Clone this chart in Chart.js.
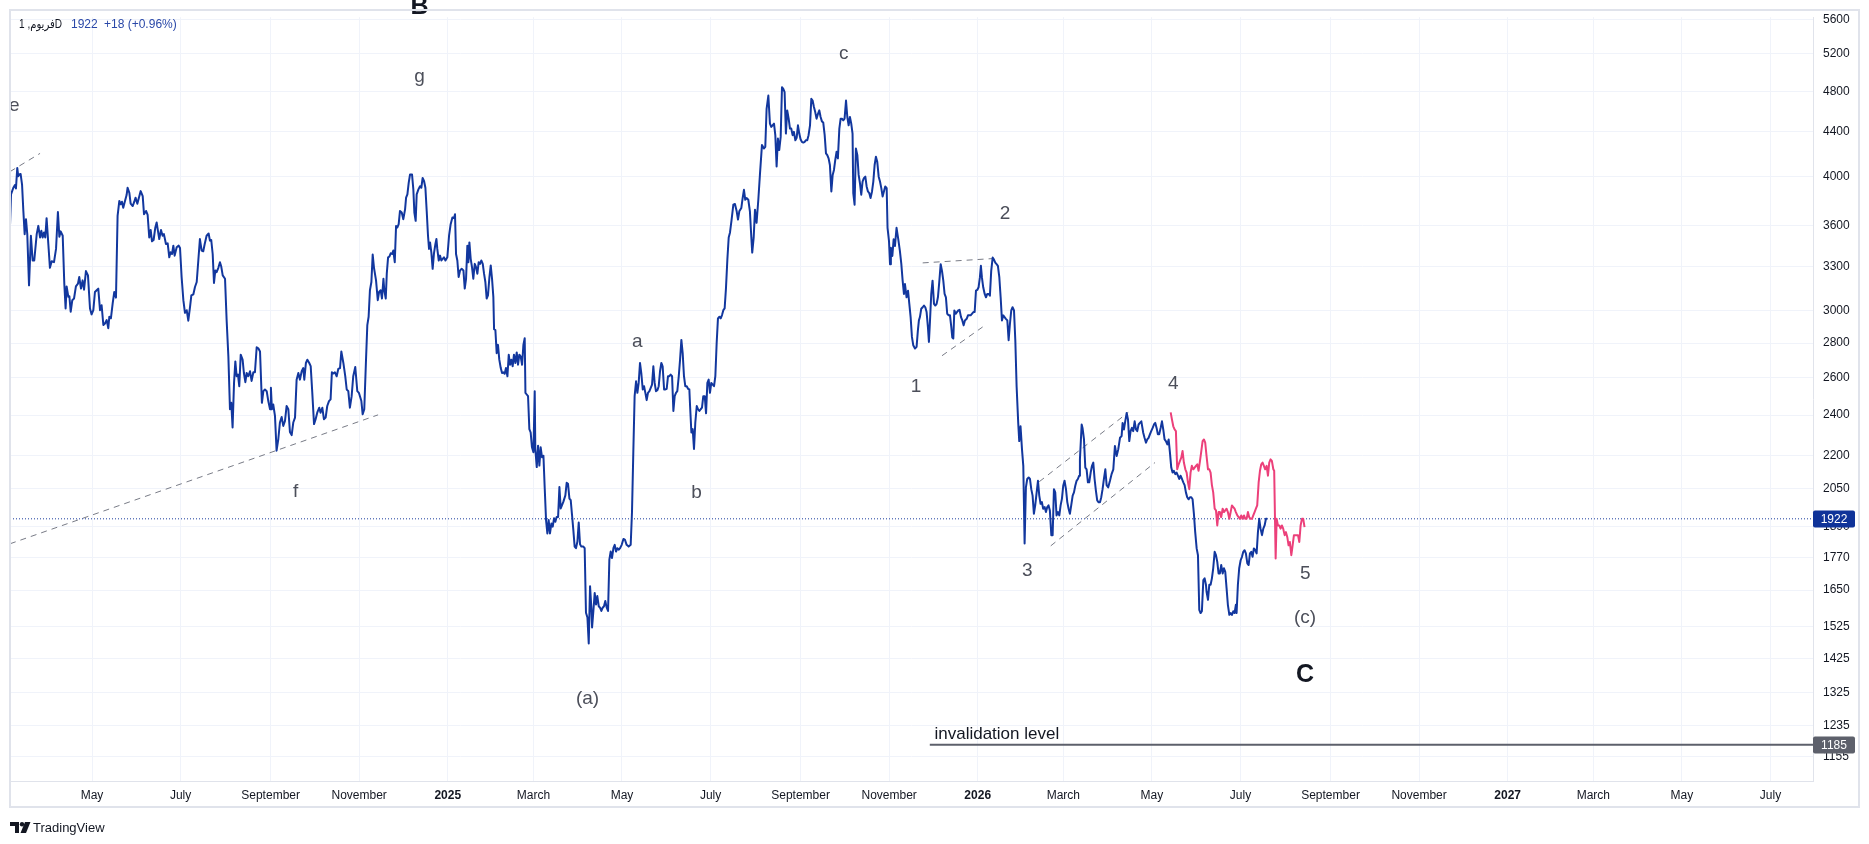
<!DOCTYPE html>
<html>
<head>
<meta charset="utf-8">
<script src="https://cdn.jsdelivr.net/npm/chart.js@4.4.1/dist/chart.umd.min.js"></script>
<style>
html,body{margin:0;padding:0;background:#ffffff;overflow:hidden;}
canvas{display:block;}
</style>
</head>
<body>
<canvas id="chart" width="1869" height="844"></canvas>
<script>
const FONT = '"Liberation Sans", Arial, "DejaVu Sans", sans-serif';
const BASE_DATE = '2024-01-01';
const dayOf = s => (Date.parse(s + 'T00:00:00Z') - Date.parse(BASE_DATE + 'T00:00:00Z')) / 864e5;

// ---------- axes ----------
const monthTickDates = ['2024-05-01','2024-07-01','2024-09-01','2024-11-01','2025-01-01','2025-03-01','2025-05-01','2025-07-01','2025-09-01','2025-11-01','2026-01-01','2026-03-01','2026-05-01','2026-07-01','2026-09-01','2026-11-01','2027-01-01','2027-03-01','2027-05-01','2027-07-01'];
const monthTickLabels = ['May','July','September','November','2025','March','May','July','September','November','2026','March','May','July','September','November','2027','March','May','July'];
const priceTicks = [1155,1235,1325,1425,1525,1650,1770,1890,2050,2200,2400,2600,2800,3000,3300,3600,4000,4400,4800,5200,5600];
const xRange = [64.5, 1306.3];      // days since 2024-01-01 visible
const yRange = [1096.6, 5624];      // visible price range (log)

// ---------- series: [days since 2024-01-01, price] ----------
const blueSeries = [
[64.5,3598],[65.2,3849],[66.8,3904],[67.9,3926],[68.6,3898],[69.5,4073],[70.2,4001],[70.9,4016],[71.8,4021],[72.8,3931],[73.7,3715],[74.6,3535],[75.5,3650],[76.4,3535],[77.6,3168],[78.9,3523],[80.1,3341],[81.2,3341],[82.9,3535],[84.0,3598],[85.2,3510],[86.1,3560],[87.0,3510],[87.9,3548],[88.8,3510],[89.7,3658],[90.9,3461],[92.0,3289],[93.2,3336],[94.8,3329],[96.2,3425],[97.5,3707],[98.5,3515],[99.4,3556],[100.8,3523],[101.9,3179],[102.8,3015],[103.5,3161],[104.7,3091],[105.4,3095],[106.3,2994],[107.4,3069],[108.6,3080],[109.9,3161],[111.3,3179],[112.2,3225],[113.4,3146],[114.5,3202],[115.5,3139],[116.8,3266],[118.2,3236],[119.6,3015],[120.7,2977],[121.9,3004],[123.0,3123],[124.2,3135],[125.3,3146],[126.5,3004],[127.6,3036],[128.8,2910],[129.9,2920],[131.1,2941],[132.2,2890],[132.9,2962],[134.0,2952],[135.2,3047],[136.3,3123],[137.5,3086],[138.6,3676],[139.8,3795],[140.7,3768],[141.6,3789],[142.5,3741],[143.7,3795],[144.8,3843],[145.5,3904],[146.7,3862],[147.6,3773],[149.0,3754],[150.1,3789],[151.0,3822],[152.2,3773],[153.1,3813],[154.5,3876],[155.9,3835],[156.8,3689],[158.2,3715],[159.3,3683],[160.4,3510],[161.4,3566],[162.3,3481],[163.4,3491],[164.6,3586],[165.5,3624],[166.4,3560],[167.3,3498],[168.5,3566],[169.6,3523],[170.5,3535],[171.9,3461],[173.1,3466],[174.2,3364],[175.1,3400],[176.1,3388],[177.0,3449],[177.9,3376],[179.3,3437],[180.7,3449],[181.6,3432],[182.7,3225],[183.9,3069],[185.0,2987],[186.2,3004],[187.3,2937],[188.5,3026],[189.4,3101],[190.8,3108],[191.9,3157],[193.1,3191],[194.2,3341],[195.3,3498],[196.5,3413],[197.6,3408],[198.6,3461],[199.9,3523],[201.3,3540],[202.2,3486],[203.1,3491],[204.1,3388],[205.0,3184],[205.9,3271],[206.8,3259],[208.0,3289],[209.1,3329],[210.0,3298],[211.0,3236],[212.6,3213],[213.7,2941],[214.9,2721],[216.0,2430],[216.9,2464],[217.8,2337],[218.8,2571],[219.7,2692],[220.6,2608],[221.5,2617],[222.4,2553],[223.4,2731],[224.7,2702],[225.6,2626],[226.6,2575],[227.5,2626],[228.6,2608],[229.8,2636],[230.9,2582],[232.1,2630],[233.2,2630],[234.4,2775],[235.5,2769],[236.7,2750],[238.0,2464],[239.0,2526],[240.1,2535],[241.3,2526],[242.4,2473],[243.6,2430],[244.2,2544],[244.9,2430],[245.8,2455],[247.0,2396],[248.1,2224],[249.3,2280],[250.4,2362],[251.6,2390],[252.7,2345],[253.9,2370],[255.0,2447],[256.2,2430],[257.3,2315],[258.5,2299],[259.6,2362],[260.8,2387],[261.9,2589],[263.1,2626],[264.2,2589],[265.4,2636],[266.5,2654],[267.2,2589],[268.3,2683],[269.3,2702],[270.6,2683],[271.6,2665],[272.7,2517],[273.9,2354],[275.0,2379],[276.1,2412],[277.5,2438],[278.4,2412],[279.6,2438],[280.7,2379],[281.9,2387],[283.0,2447],[284.2,2473],[285.3,2482],[286.2,2630],[287.2,2623],[288.3,2630],[289.5,2608],[290.6,2649],[291.8,2654],[292.7,2750],[294.1,2683],[295.4,2608],[296.4,2535],[297.5,2526],[298.6,2438],[299.8,2499],[300.9,2608],[302.3,2660],[303.7,2526],[304.8,2517],[306.5,2473],[307.4,2404],[308.5,2430],[309.7,2702],[310.6,2910],[311.5,2962],[312.4,3135],[313.4,3191],[314.3,3384],[315.2,3289],
[316.6,3202],[317.8,3069],[318.7,3123],[319.8,3135],[320.7,3080],[321.7,3213],[322.3,3135],[323.3,3080],[324.0,3248],[324.9,3364],[325.8,3369],[326.7,3393],[327.6,3388],[328.5,3413],[329.5,3329],[330.4,3598],[331.3,3586],[332.2,3611],[333.1,3715],[334.3,3702],[335.4,3650],[336.6,3728],[337.3,3822],[338.2,3849],[339.1,3945],[340.0,4016],[341.4,4016],[342.3,3890],[343.0,3702],[343.9,3637],[344.6,3849],[345.8,3890],[346.9,3917],[347.8,3904],[348.7,3987],[349.7,3959],[350.6,3904],[351.5,3715],[352.4,3523],[353.1,3425],[353.8,3473],[354.7,3400],[355.6,3282],[356.5,3393],[357.5,3461],[358.2,3498],[358.8,3425],[359.8,3341],[360.7,3376],[361.6,3341],[362.5,3353],[363.4,3364],[364.4,3341],[365.7,3364],[366.9,3523],[368.0,3611],[369.2,3663],[370.3,3658],[371.0,3689],[371.7,3388],[372.6,3341],[373.5,3225],[374.5,3271],[375.6,3282],[376.8,3271],[377.7,3146],[378.6,3213],[379.5,3449],[380.2,3329],[380.9,3473],[381.8,3353],[382.7,3294],[383.6,3213],[384.6,3317],[385.5,3294],[386.4,3248],[387.3,3329],[388.2,3317],[389.1,3341],[390.1,3317],[391.0,3248],[391.9,3191],[392.8,3080],[393.7,3101],[394.7,3225],[395.6,3306],[396.5,3213],[397.4,3091],[397.9,2884],[398.8,2879],[399.7,2740],[400.6,2789],[401.5,2702],[402.5,2654],[403.4,2626],[404.3,2630],[405.2,2622],[406.1,2654],[407.1,2608],[408.0,2731],[408.9,2673],[409.8,2702],[410.7,2664],[411.6,2731],[412.6,2683],[413.5,2744],[414.4,2673],[415.3,2731],[416.2,2721],[417.2,2673],[418.1,2789],[419.0,2829],[419.5,2517],[420.4,2508],[421.3,2499],[422.2,2329],[423.1,2312],[424.0,2240],[425.0,2216],[425.9,2526],[426.3,2232],[427.3,2147],[428.2,2248],[429.1,2154],[430.0,2240],[430.9,2193],[431.9,2200],[432.8,2050],[433.7,1917],[434.6,1863],[435.5,1917],[436.4,1863],[437.4,1903],[438.3,1890],[439.2,1924],[440.1,1910],[441.0,1930],[442.0,1930],[442.9,2057],[443.8,1965],[444.7,1979],[445.6,1993],[447.0,2021],[447.9,2076],[448.8,2072],[449.8,2007],[450.7,2000],[451.6,1937],[452.5,1876],[453.4,1811],[454.3,1805],[455.3,1831],[456.2,1907],[457.1,1820],[458.0,1811],[459.4,1811],[460.3,1805],[461.2,1572],[462.2,1556],[463.1,1472],[464.0,1664],[464.9,1589],[465.4,1523],[466.3,1578],[467.2,1640],[468.1,1600],[469.0,1629],[470.0,1594],[470.9,1589],[471.8,1578],[472.7,1589],[473.6,1594],[474.5,1612],[475.5,1589],[476.4,1578],[477.3,1761],[478.2,1792],[479.1,1767],[480.1,1805],[481.0,1818],[481.9,1792],[482.8,1805],[483.7,1799],[484.7,1805],[485.8,1818],[487.0,1841],[488.1,1837],[489.2,1818],[490.6,1811],[492.0,1818],[492.9,1951],[493.8,2216],[494.7,2499],[495.7,2580],[496.6,2517],[497.5,2571],[498.4,2683],[499.3,2626],[500.3,2535],[501.2,2553],[502.1,2517],[503.0,2478],[503.9,2517],[504.9,2526],[505.8,2544],[506.7,2562],[507.6,2664],[508.5,2571],[509.4,2526],[510.4,2531],[511.3,2553],[512.2,2636],[513.1,2683],[514.0,2664],[515.0,2535],[515.9,2535],[516.8,2539],[517.7,2608],[518.6,2608],[519.5,2617],[520.5,2608],[521.4,2421],[522.3,2499],[523.2,2517],[524.1,2526],[525.1,2608],[526.0,2702],[526.9,2819],[527.8,2740],[528.7,2608],[529.6,2553],[530.6,2553],[531.5,2539],[532.4,2535],[532.9,2447],[533.8,2312],[534.7,2329],[535.6,2232],[536.5,2362],[537.5,2447],[538.4,2430],[539.3,2421],[540.2,2430],[541.1,2438],[542.0,2499],[543.0,2499],[543.9,2409],[544.8,2571],[545.7,2589],[546.6,2517],[547.5,2571],[548.5,2562],[549.4,2553],[550.3,2608],[551.2,2799],[552.1,2952],[553.1,2962],[554.0,2952],[554.9,2973],[555.8,3004],[556.7,3015],[557.6,3146],[558.6,3353],[559.5,3510],[560.4,3548],
[561.5,3647],[562.7,3765],[563.8,3771],[565.0,3712],[565.9,3647],[566.8,3712],[568.2,3739],[569.1,3819],[570.0,3887],[570.9,3805],[571.8,3819],[573.0,3805],[574.1,3712],[575.1,3508],[575.7,3398],[576.7,3508],[577.6,3725],[578.7,3622],[579.9,3805],[581.0,4013],[582.4,4277],[583.8,4247],[584.7,4262],[585.6,4623],[586.8,4756],[587.9,4478],[588.8,4447],[589.7,4462],[590.7,4478],[591.6,4369],[592.5,4085],[593.4,4338],[594.3,4232],[595.3,4353],[596.2,4841],[597.1,4824],[598.0,4790],[598.9,4384],[599.8,4607],[600.8,4526],[601.7,4431],[602.6,4431],[603.5,4369],[604.4,4400],[605.4,4322],[606.3,4344],[607.2,4462],[608.1,4384],[609.0,4331],[609.9,4307],[610.9,4300],[611.8,4307],[612.7,4322],[613.6,4322],[614.5,4369],[615.5,4462],[616.4,4722],[617.3,4705],[618.2,4640],[619.1,4590],[620.0,4526],[621.0,4574],[621.9,4607],[622.8,4542],[623.7,4500],[624.6,4490],[625.6,4369],[626.5,4202],[627.4,4186],[628.3,4157],[629.2,4099],[630.2,3873],[631.1,4013],[632.0,4056],[632.9,4143],[633.8,4217],[634.7,4157],[635.7,4431],[636.6,4526],[637.5,4526],[638.4,4510],[639.3,4526],[640.3,4705],[641.2,4542],[642.1,4462],[643.0,4542],[643.9,4478],[644.8,4384],[645.3,3860],[646.2,3765],[647.1,4247],[648.1,4186],[649.0,4013],[649.9,3942],[650.8,3846],[651.7,3956],[652.6,3985],[653.6,3998],[654.5,3915],[655.4,3873],[656.3,3860],[657.2,3819],[658.2,3873],[659.1,3956],[660.0,4099],[660.9,4172],[661.8,4128],[662.8,3998],[663.7,3956],[664.6,3901],[665.5,3832],[666.4,3873],[667.3,3915],[668.3,3901],[668.9,3583],[669.9,3483],[670.6,3315],[671.2,3434],[672.2,3374],[673.1,3496],[674.0,3446],[675.1,3583],[676.3,3496],[677.4,3410],[678.4,3315],[679.3,3200],[680.2,3110],[680.9,3177],[682.0,3088],[683.0,3132],[683.9,3045],[684.8,2960],[685.7,2837],[686.6,2787],[687.8,2767],[688.9,2777],[689.8,2877],[690.5,2939],[691.2,2960],[692.1,3013],[693.1,3023],[694.0,3034],[694.9,3023],[695.8,2992],[696.7,2898],[697.4,2807],[698.1,2929],[699.0,3110],[699.9,3200],[700.9,3045],[701.8,3034],[702.7,3045],[703.6,3088],[704.5,3188],[705.5,3315],[706.4,3268],[707.3,3200],[708.2,3110],[709.1,3088],[710.0,2981],[711.0,2971],[711.9,2971],[712.8,2898],[713.5,2833],[714.2,2827],[714.9,3002],[715.8,2981],[716.7,2992],[717.6,3002],[718.5,3006],[719.5,2960],[720.4,2939],[721.3,2908],[722.2,2939],[723.4,2949],[724.3,2971],[725.2,2971],[726.1,2971],[727.0,2981],[728.0,2992],[728.9,2992],[729.8,3132],[730.7,3137],[731.6,3155],[732.5,3222],[733.2,3303],[733.9,3222],[734.8,3155],[735.8,3110],[736.7,3088],[737.6,3110],[738.5,3110],[739.4,3099],[740.3,3268],[741.3,3362],[742.2,3348],[743.1,3326],[744.0,3315],[744.9,3303],[745.9,3222],[746.8,3088],[747.7,2939],[748.6,2971],[749.5,2960],[750.4,2949],[751.4,2939],[752.3,2817],[753.2,2918],[754.1,3002],[755.0,3023],[756.0,3002],[756.9,2817],[757.8,2551],[758.9,2360],[759.6,2270],[760.5,2343],[761.5,2230],[762.4,2153],[763.3,1823],[764.2,2056],[765.1,2093],[766.1,2100],[767.0,2093],[767.9,2048],[768.8,2020],[769.7,1943],[770.6,1978],[771.6,2034],[772.5,2085],[773.4,2020],[774.3,1985],[775.2,1992],[776.1,1964],[777.1,1971],[778.0,1950],[778.9,1971],[779.8,1978],[780.7,1957],[781.7,1856],[782.6,1856],[783.5,2048],[784.4,2034],[785.3,1936],[786.3,1950],[787.2,1936],[788.1,1978],[789.0,2006],[789.9,2063],[790.8,2085],[791.8,2048],[792.7,1992],[793.6,1964],[794.5,1943],[795.4,1978],[796.4,2020],[797.3,2034],[798.2,2063],[799.1,2085],[800.0,2093],[800.9,2108],[801.4,2183],
[802.6,2352],[803.2,2335],[804.2,2278],[805.1,2145],[806.0,2137],[806.9,2078],[807.8,2078],[808.8,2122],[809.7,2153],[810.6,2168],[811.5,2093],[812.4,2042],[813.3,1999],[814.3,1991],[815.2,1991],[816.1,2013],[817.0,2048],[817.9,2093],[818.9,2137],[819.8,2066],[820.9,2056],[822.1,2085],[823.2,2115],[824.4,2137],[825.5,2246],[826.7,2199],[827.8,2230],[829.0,2286],[830.1,2294],[830.8,2360],[831.7,2327],[832.6,2368],[833.6,2411],[834.5,2377],[835.4,2270],[836.3,2319],[837.2,2335],[838.1,2319],[839.1,2368],[840.0,2327],[840.9,2319],[841.8,2352],[842.7,2360],[843.7,2368],[845.0,2311],[845.9,2286],[846.9,2262],[847.8,2278],[848.7,2286],[849.6,2303],[850.5,2319],[851.5,2335],[852.4,2352],[853.3,2360],[854.2,2335],[855.1,2303],[856.0,2303],[857.0,2335],[857.9,2368],[858.8,2327],[859.7,2278],[860.6,2270],[861.6,2254],[862.5,2278],[863.4,2215],[864.3,2145],[865.2,2122],[866.1,2130],[867.1,2115],[868.0,2122],[868.9,2108],[869.8,2093],[870.7,2108],[871.7,2093],[872.6,2078],[873.5,2066],[874.4,2034],[875.3,2013],[876.3,2004],[877.2,2013],[878.1,2013],[879.0,2004],[879.9,1943],[880.8,1868],[881.8,1804],[882.7,1778],[883.6,1582],[884.5,1571],[885.4,1577],[886.4,1686],[887.3,1692],[888.2,1669],[888.6,1645],[889.6,1616],[890.5,1669],[891.4,1669],[892.3,1692],[893.2,1729],[894.2,1791],[895.1,1778],[896.0,1753],[896.9,1710],[897.8,1710],[898.7,1741],[899.7,1710],[900.6,1729],[901.5,1716],[902.4,1657],[903.3,1599],[904.3,1565],[905.2,1571],[906.1,1565],[907.0,1577],[907.9,1571],[908.8,1599],[909.3,1571],[910.2,1669],[911.1,1729],[912.1,1759],[913.0,1772],[913.9,1791],[914.8,1797],[915.7,1785],[916.7,1747],[917.6,1741],[918.5,1785],[919.4,1791],[920.3,1772],[921.2,1804],[922.2,1797],[923.1,1785],[924.0,1868],[924.9,1922],[925.8,1882],[926.8,1856],[927.7,1882],[928.6,1895],[929.5,1922],[930.4,1922]
];

const pinkSeries = [
[863.9,2414],[864.8,2377],[865.7,2343],[866.6,2327],[867.5,2319],[868.4,2137],[869.4,2160],[870.3,2176],[871.2,2191],[872.1,2222],[873.0,2168],[874.0,2137],[874.9,2122],[875.8,2078],[876.7,2048],[877.6,2122],[878.5,2153],[879.5,2137],[880.4,2145],[881.3,2153],[882.2,2160],[883.1,2130],[884.1,2176],[885.0,2222],[885.9,2270],[886.8,2278],[887.7,2262],[888.6,2199],[889.6,2137],[890.5,2137],[891.4,2122],[892.3,2066],[893.2,2034],[894.2,1964],[895.1,1957],[896.0,1895],[896.9,1950],[897.8,1950],[898.7,1929],[899.7,1964],[900.6,1950],[901.5,1957],[902.4,1964],[903.3,1950],[904.3,1922],[905.2,1950],[906.1,1978],[907.0,1971],[907.9,1964],[908.8,1950],[909.8,1936],[910.7,1929],[911.6,1922],[912.5,1936],[913.4,1922],[914.4,1936],[915.3,1922],[916.2,1922],[917.1,1950],[918.0,1929],[918.9,1922],[919.9,1922],[920.8,1936],[921.7,1950],[922.6,1964],[923.5,1978],[924.5,2078],[925.4,2130],[926.3,2160],[927.2,2168],[928.1,2153],[929.0,2137],[930.0,2153],[930.9,2108],[931.8,2168],[932.7,2183],[933.6,2176],[934.6,2137],[935.2,2130],[936.2,1766],[936.9,1922],[937.8,1895],[938.7,1895],[939.6,1882],[940.5,1895],[941.4,1882],[942.4,1856],[943.3,1868],[944.2,1849],[945.1,1816],[946.0,1829],[947.0,1778],[947.9,1816],[948.8,1856],[949.7,1856],[950.6,1856],[951.6,1856],[952.5,1829],[953.4,1895],[954.3,1922],[955.2,1922],[956.1,1888]
];

const lastPrice = 1922;
const lastChange = '+18 (+0.96%)';
const symbolTitle = 'فریوم, 1D';
const invalidLevel = 1185;
const invalidStartDay = 698;
const invalidText = 'invalidation level';
const invalidTextDay = 701.2, invalidTextVal = 1200;

// dashed trend lines: start day/value, end day/value
const trendStartDay = [64.5, 64.5, 693.1, 706.4, 773.4, 781.3];
const trendStartVal = [4041, 1822, 3324, 2725, 2081, 1814];
const trendEndDay   = [85.2, 318.0, 741.7, 734.4, 834.7, 853.1];
const trendEndVal   = [4202, 2401, 3355, 2898, 2414, 2168];

// wave labels
const waveText = ['B','g','e','f','a','b','(a)','c','1','2','3','4','5','(c)','C'];
const waveDay  = [346.6, 346.6, 67.5, 261.2, 496.6, 537.4, 462.3, 638.8, 688.5, 749.8, 765.2, 865.7, 956.6, 956.4, 956.4];
const waveVal  = [5746, 4946, 4656, 2035, 2807, 2034, 1307, 5203, 2551, 3694, 1719, 2565, 1708, 1555, 1375];

// ---------- styles ----------
const BLUE = '#12379e', PINK = '#ec407a', GRID = '#f0f3fa', BORDER = '#e0e3eb', TEXT = '#131722';

const toXY = pts => pts.map(p => ({x: p[0], y: p[1]}));
const lineDs = (pts, color, width, dash) => ({
  data: toXY(pts), borderColor: color, borderWidth: width, borderDash: dash || [],
  pointRadius: 0, pointHoverRadius: 0, fill: false, tension: 0,
  borderJoinStyle: 'round', borderCapStyle: 'butt'
});

const datasets = [
  lineDs(pinkSeries, PINK, 2),
  lineDs(blueSeries, BLUE, 2),
  lineDs([[xRange[0], lastPrice], [xRange[1], lastPrice]], '#1b3d9e', 1, [1, 2]),
  lineDs([[invalidStartDay, invalidLevel], [xRange[1], invalidLevel]], '#5d606b', 2)
];
trendStartDay.forEach((d, i) => {
  datasets.push(lineDs([[d, trendStartVal[i]], [trendEndDay[i], trendEndVal[i]]], '#787b86', 1, [6, 5]));
});

const overlay = {
  id: 'overlay',
  afterDatasetsDraw(chart) {
    const {ctx, scales: {x, y}} = chart;
    ctx.save();
    ctx.textAlign = 'center';
    ctx.textBaseline = 'middle';
    waveText.forEach((t, i) => {
      const big = (t === 'B' || t === 'C');
      ctx.font = (big ? 'bold 25px ' : '19px ') + FONT;
      ctx.fillStyle = big ? TEXT : '#4c4f5a';
      ctx.fillText(t, x.getPixelForValue(waveDay[i]), y.getPixelForValue(waveVal[i]));
    });
    ctx.textAlign = 'left';
    ctx.textBaseline = 'alphabetic';
    ctx.font = '17px ' + FONT;
    ctx.fillStyle = TEXT;
    ctx.fillText(invalidText, x.getPixelForValue(invalidTextDay), y.getPixelForValue(invalidTextVal));
    ctx.restore();
  },
  afterDraw(chart) {
    const {ctx, scales: {y}, chartArea: a} = chart;
    ctx.save();
    // screenshot edge: hide what lies above the frame on the price axis
    ctx.fillStyle = '#ffffff';
    ctx.fillRect(a.right + 1, 0, 60, 10);
    // outer frame
    ctx.strokeStyle = BORDER;
    ctx.lineWidth = 2;
    ctx.strokeRect(10, 10, 1849, 797);
    // price boxes on axis
    const box = (val, bg) => {
      const py = Math.round(y.getPixelForValue(val));
      ctx.fillStyle = bg;
      ctx.beginPath();
      ctx.roundRect(a.right, py - 8.5, 42, 17, 2);
      ctx.fill();
      ctx.fillStyle = '#ffffff';
      ctx.font = '12px ' + FONT;
      ctx.textAlign = 'center';
      ctx.textBaseline = 'middle';
      ctx.fillText(String(val), a.right + 21, py + 0.5);
    };
    box(lastPrice, '#0f3399');
    box(invalidLevel, '#5d606b');
    // header legend
    ctx.textAlign = 'left';
    ctx.textBaseline = 'middle';
    ctx.font = '12px ' + FONT;
    ctx.fillStyle = TEXT;
    const tw = ctx.measureText(symbolTitle).width;
    const sx = Math.min(1, 43 / tw);
    ctx.save();
    ctx.translate(19, 25);
    ctx.scale(sx, 1);
    ctx.fillText(symbolTitle, 0, 0);
    ctx.restore();
    ctx.fillStyle = '#2a48a8';
    ctx.fillText(String(lastPrice), 71, 25);
    ctx.fillText(lastChange, 104, 25);
    // TradingView logo
    ctx.fillStyle = TEXT;
    ctx.fillRect(10, 822, 9, 4);
    ctx.fillRect(15, 822, 4, 11);
    ctx.beginPath(); ctx.arc(22, 824.2, 2.2, 0, Math.PI * 2); ctx.fill();
    ctx.beginPath(); ctx.moveTo(25, 822); ctx.lineTo(30.5, 822); ctx.lineTo(26, 833); ctx.lineTo(20.5, 833); ctx.closePath(); ctx.fill();
    ctx.font = '13px ' + FONT;
    ctx.textBaseline = 'middle';
    ctx.fillText('TradingView', 33, 828);
    ctx.restore();
  }
};

new Chart(document.getElementById('chart'), {
  type: 'line',
  data: { datasets },
  plugins: [overlay],
  options: {
    responsive: false,
    devicePixelRatio: 1,
    animation: false,
    events: [],
    parsing: false,
    layout: { padding: { left: 10, right: 9, top: 11, bottom: 36 } },
    plugins: { legend: { display: false }, tooltip: { enabled: false } },
    scales: {
      x: {
        type: 'linear', position: 'bottom',
        min: xRange[0], max: xRange[1],
        afterBuildTicks: s => { s.ticks = monthTickDates.map(d => ({ value: dayOf(d) })); },
        afterFit: s => { s.height = 27; },
        grid: { color: GRID, lineWidth: 1, drawTicks: false },
        border: { color: BORDER, width: 1 },
        ticks: {
          autoSkip: false, maxRotation: 0, minRotation: 0, padding: 7, color: TEXT,
          font: c => ({ family: FONT, size: 12, weight: /^\d{4}$/.test(monthTickLabels[c.index] || '') ? 'bold' : 'normal' }),
          callback: (v, i) => monthTickLabels[i]
        }
      },
      y: {
        type: 'logarithmic', position: 'right',
        min: yRange[0], max: yRange[1],
        afterBuildTicks: s => { s.ticks = priceTicks.map(v => ({ value: v })); },
        afterFit: s => { s.width = 47; },
        grid: { color: GRID, lineWidth: 1, drawTicks: false },
        border: { color: BORDER, width: 1 },
        ticks: {
          padding: 10, color: TEXT, font: { family: FONT, size: 12 },
          callback: v => String(v)
        }
      }
    }
  }
});
</script>
</body>
</html>
